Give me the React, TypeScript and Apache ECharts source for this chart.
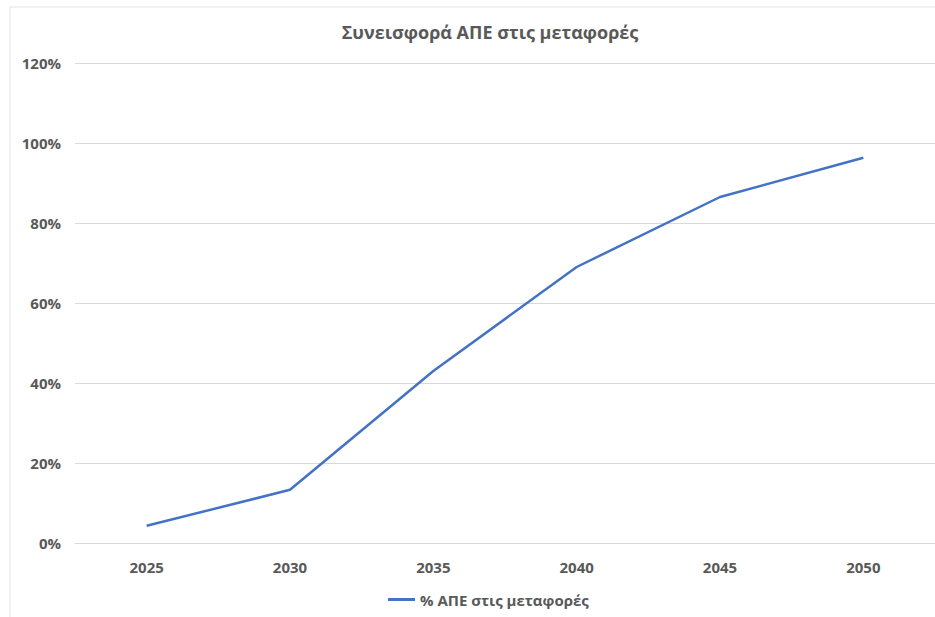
import React, { useEffect, useRef } from "react";
import * as echarts from "echarts";

const years = ["2025", "2030", "2035", "2040", "2045", "2050"];
const shareValues = [4.3, 13.3, 43, 69, 86.5, 96.3];
const seriesName = "% ΑΠΕ στις μεταφορές";
const chartTitle = "Συνεισφορά ΑΠΕ στις μεταφορές";

export default function App() {
  const ref = useRef<HTMLDivElement>(null);
  useEffect(() => {
    if (!ref.current) return;
    const chart = echarts.init(ref.current, null, { renderer: "svg" });
    const font = "'Open Sans', 'Noto Sans', sans-serif";
    chart.setOption({
      animation: false,
      backgroundColor: "#ffffff",
      textStyle: { fontFamily: font },
      title: {
        text: chartTitle,
        left: 485,
        top: 18,
        textAlign: "center",
        textStyle: { fontFamily: font, fontSize: 18, fontWeight: "bold", color: "#595959" },
      },
      legend: {
        top: 587,
        left: 383,
        data: [seriesName],
        icon: "rect",
        itemWidth: 27,
        itemHeight: 3,
        itemGap: 2,
        textStyle: { fontFamily: font, fontSize: 15, fontWeight: "bold", color: "#595959" },
      },
      graphic: [
        {
          type: "rect",
          shape: { x: 10, y: 7, width: 940, height: 620 },
          style: { fill: "none", stroke: "#e3e3e3", lineWidth: 1 },
          silent: true,
        },
      ],
      grid: { left: 75, right: 0, top: 63, bottom: 74 },
      xAxis: {
        type: "category",
        data: years,
        boundaryGap: true,
        axisLine: { show: true, lineStyle: { color: "#d9d9d9", width: 1 } },
        axisTick: { show: false },
        axisLabel: { margin: 16, fontSize: 15, fontWeight: "bold", color: "#595959", fontFamily: font },
      },
      yAxis: {
        type: "value",
        min: 0,
        max: 120,
        interval: 20,
        axisLine: { show: false },
        axisTick: { show: false },
        splitLine: { lineStyle: { color: "#d9d9d9", width: 1 } },
        axisLabel: {
          margin: 14,
          fontSize: 15,
          fontWeight: "bold",
          color: "#595959",
          fontFamily: font,
          formatter: (v: number) => `${v}%`,
        },
      },
      series: [
        {
          name: seriesName,
          type: "line",
          data: shareValues,
          showSymbol: false,
          symbol: "none",
          lineStyle: { color: "#4472C4", width: 2.5 },
          itemStyle: { color: "#4472C4" },
        },
      ],
    });
    return () => chart.dispose();
  }, []);
  return (
    <div
      ref={ref}
      style={{ position: "fixed", left: 0, top: 0, width: 935, height: 617 }}
    />
  );
}
